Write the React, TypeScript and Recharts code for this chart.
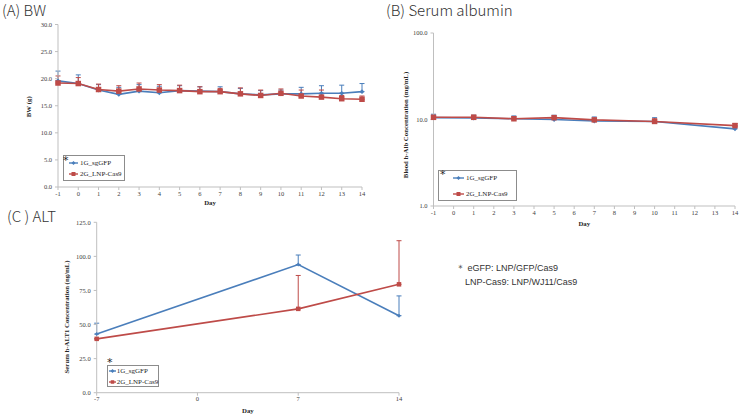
import React from 'react';
import { LineChart, Line, XAxis, YAxis, ErrorBar, Legend } from 'recharts';

const BLUE = '#4A7EBB';
const RED = '#BE4B48';
const AXIS = '#BFBFBF';
const TICK_TEXT = '#404040';

const seriesNames = ['1G_sgGFP', '2G_LNP-Cas9'];

// (A) body weight, g
const bwDays = [-1, 0, 1, 2, 3, 4, 5, 6, 7, 8, 9, 10, 11, 12, 13, 14];
const bwGfp = [19.6, 19.1, 17.9, 17.1, 17.7, 17.4, 17.8, 17.7, 17.6, 17.2, 17.0, 17.2, 17.2, 17.3, 17.3, 17.6];
const bwGfpSd = [1.8, 1.6, 1.0, 1.3, 1.2, 1.2, 0.9, 0.8, 0.9, 1.0, 0.8, 0.7, 1.2, 1.4, 1.5, 1.5];
const bwCas9 = [19.2, 19.1, 18.0, 17.7, 18.1, 17.9, 17.8, 17.6, 17.6, 17.2, 16.9, 17.3, 16.8, 16.6, 16.3, 16.2];
const bwCas9Sd = [1.3, 1.1, 1.0, 1.0, 1.1, 1.0, 1.0, 0.9, 0.6, 1.1, 1.0, 0.8, 1.1, 1.3, 0.6, 0.6];
const bwTicksY = [0, 5, 10, 15, 20, 25, 30];

// (B) serum albumin, mg/mL (log axis)
const albDays = [-1, 1, 3, 5, 7, 10, 14];
const albGfp = [10.5, 10.4, 10.2, 10.0, 9.6, 9.5, 7.8];
const albGfpSd = [1.0, 0.8, 0.8, 1.2, 1.1, 1.0, 0.5];
const albCas9 = [10.6, 10.6, 10.2, 10.5, 9.9, 9.5, 8.5];
const albCas9Sd = [0.4, 0.6, 0.5, 0.1, 0.2, 0.7, 0.5];
const albTicksX = [-1, 0, 1, 2, 3, 4, 5, 6, 7, 8, 9, 10, 11, 12, 13, 14];
const albTicksY = [1, 10, 100];

// (C) serum ALT, ng/mL
const altDays = [-7, 7, 14];
const altGfp = [43.0, 94.0, 56.5];
const altGfpSd = [8.0, 7.0, 14.5];
const altCas9 = [39.5, 61.5, 79.5];
const altCas9Sd = [0, 24.5, 32.0];
const altTicksX = [-7, 0, 7, 14];
const altTicksY = [0, 25, 50, 75, 100, 125];

type Row = { day: number; gfp: number; gfpErr: number[]; cas9: number; cas9Err: number[] };

const buildRows = (days: number[], gfp: number[], gfpSd: number[], cas9: number[], cas9Sd: number[]): Row[] =>
  days.map((d, i) => ({
    day: d,
    gfp: gfp[i],
    gfpErr: [0, gfpSd[i]],
    cas9: cas9[i],
    cas9Err: [0, cas9Sd[i]],
  }));

const bwRows = buildRows(bwDays, bwGfp, bwGfpSd, bwCas9, bwCas9Sd);
const albRows = buildRows(albDays, albGfp, albGfpSd, albCas9, albCas9Sd);
const altRows = buildRows(altDays, altGfp, altGfpSd, altCas9, altCas9Sd);

const SERIF = '"Liberation Serif", "DejaVu Serif", serif';
const tickStyle = { fontSize: 6.5, fill: TICK_TEXT, fontFamily: SERIF };
const axisTitleStyle: React.CSSProperties = { fontSize: 6.8, fontWeight: 700, fill: '#262626', fontFamily: SERIF };

const DiamondDot = (props: any) => {
  const { cx, cy, r = 2.4, stroke } = props;
  if (cx == null || cy == null) return null;
  return <path d={`M${cx},${cy - r}L${cx + r},${cy}L${cx},${cy + r}L${cx - r},${cy}Z`} fill={stroke} />;
};

const SquareDot = (props: any) => {
  const { cx, cy, size = 5, stroke } = props;
  if (cx == null || cy == null) return null;
  return <rect x={cx - size / 2} y={cy - size / 2} width={size} height={size} fill={stroke} />;
};

const xTitle = (text: string, dy: number) => (props: any) => {
  const vb = props.viewBox || {};
  return (
    <text x={vb.x + vb.width / 2} y={vb.y + dy} textAnchor="middle" dominantBaseline="central" style={axisTitleStyle}>
      {text}
    </text>
  );
};

const yTitle = (text: string, dx: number, dy: number) => (props: any) => {
  const vb = props.viewBox || {};
  const x = vb.x + dx;
  const y = vb.y + vb.height / 2 + dy;
  return (
    <text x={x} y={y} transform={`rotate(-90 ${x} ${y})`} textAnchor="middle" dominantBaseline="central" style={axisTitleStyle}>
      {text}
    </text>
  );
};

type LegendCfg = {
  rows: number[];
  sampleX: number;
  sampleW: number;
  textX: number;
  star: [number, number];
  squareSize: number;
};

const LegendBox = ({ payload, cfg }: { payload?: any[]; cfg: LegendCfg }) => {
  const items = payload || [];
  return (
    <div
      style={{
        position: 'relative',
        width: '100%',
        height: '100%',
        boxSizing: 'border-box',
        border: '1px solid #8C8C8C',
        background: '#fff',
        fontFamily: SERIF,
        fontSize: 7,
        color: '#262626',
      }}
    >
      <span
        style={{
          position: 'absolute',
          left: cfg.star[0] - 4,
          top: cfg.star[1] - 6,
          fontSize: 11,
          lineHeight: '12px',
          fontFamily: '"DejaVu Sans", sans-serif',
          color: '#222',
        }}
      >
        *
      </span>
      {items.map((it: any, i: number) => {
        const color = it.color;
        const cy = cfg.rows[i];
        const mid = cfg.sampleW / 2;
        return (
          <div key={it.value} style={{ position: 'absolute', left: 0, top: cy - 5, height: 10, width: '100%' }}>
            <svg width={cfg.sampleW} height={10} style={{ position: 'absolute', left: cfg.sampleX, top: 0 }}>
              <line x1={0} y1={5} x2={cfg.sampleW} y2={5} stroke={color} strokeWidth={1.4} />
              {i === 0 ? (
                <path d={`M${mid},3L${mid + 2},5L${mid},7L${mid - 2},5Z`} fill={color} />
              ) : (
                <rect x={mid - cfg.squareSize / 2} y={5 - cfg.squareSize / 2} width={cfg.squareSize} height={cfg.squareSize} fill={color} />
              )}
            </svg>
            <span style={{ position: 'absolute', left: cfg.textX, top: 0, lineHeight: '10px', whiteSpace: 'nowrap' }}>{it.value}</span>
          </div>
        );
      })}
    </div>
  );
};

const fmt1 = (v: number) => v.toFixed(1);

const Series = (sq: number, dia: number) => [
  <Line
    key="gfp"
    type="linear"
    dataKey="gfp"
    name={seriesNames[0]}
    stroke={BLUE}
    strokeWidth={1.6}
    dot={<DiamondDot r={dia} />}
    activeDot={false}
    isAnimationActive={false}
  >
    <ErrorBar dataKey="gfpErr" stroke={BLUE} width={2.5} strokeWidth={1} direction="y" isAnimationActive={false} />
  </Line>,
  <Line
    key="cas9"
    type="linear"
    dataKey="cas9"
    name={seriesNames[1]}
    stroke={RED}
    strokeWidth={1.6}
    dot={<SquareDot size={sq} />}
    activeDot={false}
    isAnimationActive={false}
  >
    <ErrorBar dataKey="cas9Err" stroke={RED} width={2.5} strokeWidth={1} direction="y" isAnimationActive={false} />
  </Line>,
];

const panelTitle: React.CSSProperties = {
  position: 'absolute',
  fontFamily: '"Noto Sans CJK JP", "Noto Sans", sans-serif',
  fontWeight: 300,
  fontSize: 15,
  lineHeight: '17px',
  color: '#333',
  whiteSpace: 'nowrap',
  zIndex: 2,
};

const noteStyle: React.CSSProperties = {
  position: 'absolute',
  fontFamily: '"Liberation Sans", Arial, sans-serif',
  fontSize: 9,
  lineHeight: '11px',
  color: '#333',
  whiteSpace: 'nowrap',
};

export default function App() {
  return (
    <div style={{ position: 'absolute', left: 0, top: 0, width: 740, height: 415, background: '#fff', overflow: 'hidden' }}>
      {/* (A) body weight */}
      <div style={{ position: 'absolute', left: 0, top: 0 }}>
        <LineChart width={370} height={210} data={bwRows} margin={{ top: 24.5, right: 8, bottom: 0, left: 18 }}>
          <XAxis
            dataKey="day"
            type="number"
            domain={[-1, 14]}
            ticks={bwDays}
            interval={0}
            height={23}
            tick={tickStyle}
            tickSize={3}
            tickMargin={1}
            axisLine={{ stroke: AXIS }}
            tickLine={{ stroke: AXIS }}
            label={{ content: xTitle('Day', 15) }}
          />
          <YAxis
            type="number"
            domain={[0, 30]}
            ticks={bwTicksY}
            interval={0}
            width={40}
            tick={tickStyle}
            tickSize={3}
            tickMargin={3}
            tickFormatter={fmt1}
            axisLine={{ stroke: AXIS }}
            tickLine={{ stroke: AXIS }}
            label={{ content: yTitle('BW (g)', 10.5, 1) }}
          />
          {Series(5.5, 2.4)}
          <Legend
            layout="vertical"
            align="center"
            verticalAlign="middle"
            wrapperStyle={{ left: 63, top: 155, width: 62, height: 26 }}
            content={(p: any) => (
              <LegendBox payload={p.payload} cfg={{ rows: [7.3, 18.3], sampleX: 5, sampleW: 9, textX: 16, star: [3, 5], squareSize: 4 }} />
            )}
          />
        </LineChart>
      </div>

      {/* (B) serum albumin */}
      <div style={{ position: 'absolute', left: 370, top: 0 }}>
        <LineChart width={370} height={230} data={albRows} margin={{ top: 33, right: 5, bottom: 0, left: 18.5 }}>
          <XAxis
            dataKey="day"
            type="number"
            domain={[-1, 14]}
            ticks={albTicksX}
            interval={0}
            height={24}
            tick={tickStyle}
            tickSize={3}
            tickMargin={1}
            axisLine={{ stroke: AXIS }}
            tickLine={{ stroke: AXIS }}
            label={{ content: xTitle('Day', 17) }}
          />
          <YAxis
            type="number"
            scale="log"
            domain={[1, 100]}
            ticks={albTicksY}
            interval={0}
            width={45}
            tick={tickStyle}
            tickSize={3}
            tickMargin={3}
            tickFormatter={fmt1}
            axisLine={{ stroke: AXIS }}
            tickLine={{ stroke: AXIS }}
            label={{ content: yTitle('Blood h-Alb Concentration (mg/mL)', 16.5, 5.5) }}
          />
          {Series(5.5, 2.4)}
          <Legend
            layout="vertical"
            align="center"
            verticalAlign="middle"
            wrapperStyle={{ left: 68, top: 170, width: 79, height: 31 }}
            content={(p: any) => (
              <LegendBox payload={p.payload} cfg={{ rows: [7.3, 23], sampleX: 14, sampleW: 11, textX: 27, star: [5, 4], squareSize: 4 }} />
            )}
          />
        </LineChart>
      </div>

      {/* (C) ALT */}
      <div style={{ position: 'absolute', left: 0, top: 200 }}>
        <LineChart width={430} height={215} data={altRows} margin={{ top: 22.3, right: 31, bottom: 0, left: 56.7 }}>
          <XAxis
            dataKey="day"
            type="number"
            domain={[-7, 14]}
            ticks={altTicksX}
            interval={0}
            height={22.3}
            tick={tickStyle}
            tickSize={3}
            tickMargin={1}
            axisLine={{ stroke: AXIS }}
            tickLine={{ stroke: AXIS }}
            label={{ content: xTitle('Day', 18) }}
          />
          <YAxis
            type="number"
            domain={[0, 125]}
            ticks={altTicksY}
            interval={0}
            width={40}
            tick={tickStyle}
            tickSize={3}
            tickMargin={3}
            tickFormatter={fmt1}
            axisLine={{ stroke: AXIS }}
            tickLine={{ stroke: AXIS }}
            label={{ content: yTitle('Serum h-ALT1 Concentration (ng/mL)', 10, 9.5) }}
          />
          {Series(4.5, 2)}
          <Legend
            layout="vertical"
            align="center"
            verticalAlign="middle"
            wrapperStyle={{ left: 106.7, top: 165, width: 52, height: 22 }}
            content={(p: any) => (
              <LegendBox payload={p.payload} cfg={{ rows: [5, 15.7], sampleX: 1.3, sampleW: 7, textX: 9, star: [3.3, -3], squareSize: 3.5 }} />
            )}
          />
        </LineChart>
      </div>

      <div style={{ ...noteStyle, left: 456, top: 263 }}>＊ eGFP: LNP/GFP/Cas9</div>
      <div style={{ ...noteStyle, left: 465, top: 277 }}>LNP-Cas9: LNP/WJ11/Cas9</div>

      <div style={{ ...panelTitle, left: 2, top: 1 }}>(A) BW</div>
      <div style={{ ...panelTitle, left: 386, top: 1 }}>(B) Serum albumin</div>
      <div style={{ ...panelTitle, left: 7, top: 207 }}>(C ) ALT</div>
    </div>
  );
}
